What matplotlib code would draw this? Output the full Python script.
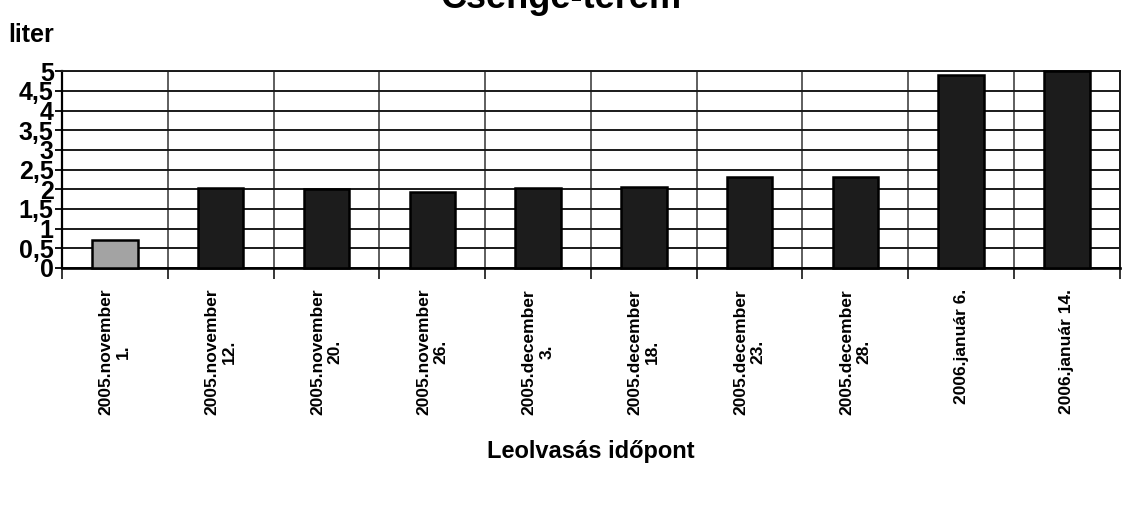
import matplotlib.pyplot as plt
import numpy as np

plt.rcParams['font.family'] = ['Liberation Sans', 'DejaVu Sans']

dates = ["2005.november\n1.", "2005.november\n12.", "2005.november\n20.",
         "2005.november\n26.", "2005.december\n3.", "2005.december\n18.",
         "2005.december\n23.", "2005.december\n28.", "2006.január 6.",
         "2006.január 14."]
liters = [0.72, 2.02, 2.01, 1.92, 2.02, 2.05, 2.31, 2.32, 4.9, 5.0]
bar_colors = ["#a3a3a3"] + ["#1c1c1c"] * 9
y_ticks = [0, 0.5, 1, 1.5, 2, 2.5, 3, 3.5, 4, 4.5, 5]
y_labels = ["0", "0,5", "1", "1,5", "2", "2,5", "3", "3,5", "4", "4,5", "5"]

fig = plt.figure(figsize=(11.22, 5.12), dpi=100)
ax = fig.add_axes([0.0553, 0.4766, 0.9427, 0.3844])

x = np.arange(len(dates))
ax.bar(x, liters, width=0.43, color=bar_colors, edgecolor="black",
       linewidth=1.8, zorder=3, clip_on=False)

ax.set_xlim(-0.5, len(dates) - 0.5)
ax.set_ylim(0, 5)

# horizontal grid + outward ticks
ax.set_yticks(y_ticks)
ax.set_yticklabels(y_labels, fontsize=18, fontweight="bold")
ax.tick_params(axis="y", length=5, width=1.3, pad=1, direction="out")
ax.yaxis.grid(True, color="#1a1a1a", linewidth=1.4, zorder=0)

# category labels at centers, boundaries as minor ticks with grid
ax.set_xticks(x)
ax.set_xticklabels(dates, rotation=90, fontsize=12.5, fontweight="bold",
                   ha="center", va="top", multialignment="center")
ax.tick_params(axis="x", which="major", length=0, pad=15)
ax.set_xticks(np.arange(-0.5, len(dates)), minor=True)
ax.tick_params(axis="x", which="minor", length=8, width=1.1, direction="out")
ax.xaxis.grid(True, which="minor", color="#333333", linewidth=1.1, zorder=0)

for side in ["top", "right"]:
    ax.spines[side].set_linewidth(1.4)
    ax.spines[side].set_color("#1a1a1a")
ax.spines["left"].set_linewidth(1.6)
ax.spines["bottom"].set_linewidth(1.9)

ax.set_xlabel("Leolvasás időpont", fontsize=17, fontweight="bold", labelpad=18)

fig.text(0.0075, 0.918, "liter", fontsize=18, fontweight="bold",
         ha="left", va="baseline")
fig.text(0.5004, 0.9845, "Csenge-terem", fontsize=26, fontweight="bold",
         ha="center", va="baseline")

fig.savefig("out.png", dpi=100)
